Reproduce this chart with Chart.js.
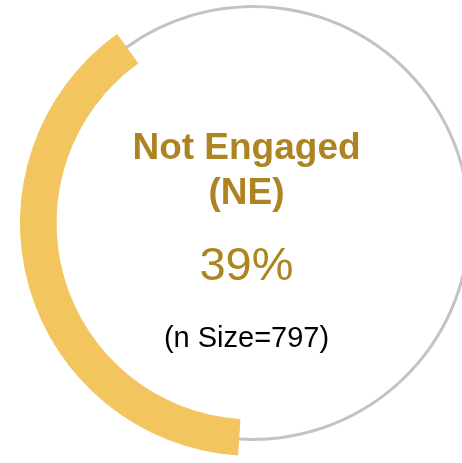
<!DOCTYPE html>
<html>
<head>
<meta charset="utf-8">
<script src="https://cdn.jsdelivr.net/npm/chart.js@4"></script>
<style>
  html, body { margin: 0; padding: 0; background: #fff; overflow: hidden; width: 462px; height: 463px; }
  #stage { position: relative; width: 462px; height: 463px; overflow: hidden; }
  #ring { position: absolute; left: 20px; top: -10px; }
  .lbl { position: absolute; left: 0; width: 493px; text-align: center; font-family: "Liberation Sans", Arial, sans-serif; white-space: nowrap; }
  #title { top: 124px; font-size: 37px; line-height: 45px; font-weight: bold; color: #AE8422; }
  #pct { top: 240px; font-size: 47px; line-height: 47px; color: #AE8422; }
  #nsize { top: 322px; font-size: 29px; line-height: 30px; color: #000; }
</style>
</head>
<body>
<div id="stage">
  <canvas id="ring" width="466" height="466"></canvas>
  <div class="lbl" id="title"></div>
  <div class="lbl" id="pct"></div>
  <div class="lbl" id="nsize"></div>
</div>
<script>
// Share of respondents in each group
const categories = ['Not Engaged (NE)', 'Rest'];
const values = [39, 61];
const sampleSize = 797;
const titleLines = ['Not Engaged', '(NE)'];

const GOLD = '#F3C55F';
const TRACK = '#C3C3C3';
const NONE = 'rgba(0,0,0,0)';

// Three concentric rings: the gold share runs through all of them so it reads
// as one thick band, while the thin middle ring carries the grey track.
function ring(restColor, weight) {
  return {
    data: values,
    backgroundColor: [GOLD, restColor],
    borderColor: [GOLD, NONE],
    borderWidth: [1, 0],
    weight: weight
  };
}

new Chart(document.getElementById('ring'), {
  type: 'doughnut',
  data: {
    labels: categories,
    datasets: [ring(NONE, 14.5), ring(TRACK, 3), ring(NONE, 18)]
  },
  options: {
    responsive: false,
    animation: false,
    events: [],
    rotation: 183.8,
    cutout: '84.7%',
    layout: { padding: 0 },
    plugins: { legend: { display: false }, tooltip: { enabled: false } }
  }
});

document.getElementById('title').innerHTML = titleLines.join('<br>');
document.getElementById('pct').textContent = values[0] + '%';
document.getElementById('nsize').textContent = '(n Size=' + sampleSize + ')';
</script>
</body>
</html>
